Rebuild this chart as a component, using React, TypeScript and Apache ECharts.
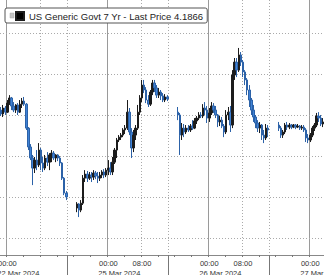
import React, { useEffect, useRef } from 'react';
import * as echarts from 'echarts';

// ---- chart text ----
const seriesTitle = 'US Generic Govt 7 Yr';
const fieldName = 'Last Price';

// ---- axis / tick definitions ----
const sessionDays = ['21 Mar 2024', '22 Mar 2024', '25 Mar 2024', '26 Mar 2024', '27 Mar 2024'];
const leadSlots = 3; // 30-min slots shown before 22 Mar 00:00
const slotMinutes = 30;
const slotsPerDay = 48;
const timeTickLabels = ['00:00', '08:00'];
const minorTickTimes = ['00:00', '04:00', '08:00', '12:00', '16:00', '20:00'];
const dayStartTime = '00:00';
const sessionBreakTime = '14:30';
const gapSlots = 4;
const gridValues = [4.13, 4.15, 4.17, 4.19, 4.21, 4.23];
const yMin = 4.1217;
const yMax = 4.2461;

// ---- 30-min candles [open, close, low, high] per session ----
const mar22 = [
  [4.1924, 4.1905, 4.1895, 4.1939], [4.1905, 4.1934, 4.1890, 4.1949], [4.1934, 4.1914, 4.1900, 4.1944],
  [4.1914, 4.1958, 4.1910, 4.1973], [4.1958, 4.1983, 4.1949, 4.1997], [4.1983, 4.1944, 4.1924, 4.1988],
  [4.1944, 4.1924, 4.1914, 4.1963], [4.1924, 4.1949, 4.1910, 4.1953], [4.1949, 4.1914, 4.1900, 4.1958],
  [4.1914, 4.1953, 4.1910, 4.1973], [4.1953, 4.1968, 4.1934, 4.1983], [4.1968, 4.1953, 4.1944, 4.1988],
  [4.1953, 4.1836, 4.1827, 4.1958], [4.1836, 4.1744, 4.1729, 4.1841], [4.1744, 4.1690, 4.1680, 4.1758],
  [4.1690, 4.1641, 4.1558, 4.1705], [4.1641, 4.1680, 4.1617, 4.1695], [4.1680, 4.1656, 4.1631, 4.1729],
  [4.1656, 4.1729, 4.1646, 4.1763], [4.1729, 4.1666, 4.1631, 4.1739], [4.1666, 4.1641, 4.1622, 4.1695],
  [4.1641, 4.1690, 4.1631, 4.1705], [4.1690, 4.1670, 4.1651, 4.1719], [4.1670, 4.1705, 4.1631, 4.1714],
  [4.1705, 4.1714, 4.1670, 4.1729], [4.1714, 4.1690, 4.1680, 4.1724], [4.1690, 4.1705, 4.1670, 4.1709],
  [4.1705, 4.1690, 4.1675, 4.1709], [4.1690, 4.1666, 4.1651, 4.1700], [4.1666, 4.1592, 4.1583, 4.1670],
  [4.1592, 4.1519, 4.1509, 4.1597], [4.1519, 4.1500, 4.1485, 4.1529],
];
const mar25 = [
  [4.1446, 4.1466, 4.1426, 4.1475], [4.1466, 4.1436, 4.1402, 4.1470], [4.1436, 4.1470, 4.1426, 4.1485],
  [4.1470, 4.1592, 4.1461, 4.1607], [4.1592, 4.1612, 4.1573, 4.1631], [4.1612, 4.1592, 4.1573, 4.1627],
  [4.1592, 4.1607, 4.1583, 4.1622], [4.1607, 4.1597, 4.1573, 4.1622], [4.1597, 4.1617, 4.1583, 4.1631],
  [4.1617, 4.1602, 4.1587, 4.1627], [4.1602, 4.1592, 4.1568, 4.1622], [4.1592, 4.1607, 4.1578, 4.1622],
  [4.1607, 4.1622, 4.1592, 4.1631], [4.1622, 4.1607, 4.1592, 4.1636], [4.1607, 4.1631, 4.1597, 4.1641],
  [4.1631, 4.1641, 4.1607, 4.1680], [4.1641, 4.1622, 4.1607, 4.1670], [4.1622, 4.1670, 4.1607, 4.1695],
  [4.1670, 4.1729, 4.1661, 4.1739], [4.1729, 4.1778, 4.1690, 4.1788], [4.1778, 4.1792, 4.1768, 4.1802],
  [4.1792, 4.1802, 4.1778, 4.1812], [4.1802, 4.1827, 4.1792, 4.1836], [4.1827, 4.1836, 4.1807, 4.1851],
  [4.1836, 4.1914, 4.1827, 4.1973], [4.1914, 4.1817, 4.1802, 4.1934], [4.1817, 4.1739, 4.1690, 4.1836],
  [4.1739, 4.1802, 4.1719, 4.1827], [4.1802, 4.1836, 4.1778, 4.1851], [4.1836, 4.1914, 4.1827, 4.1949],
  [4.1914, 4.1983, 4.1900, 4.1997], [4.1983, 4.2046, 4.1963, 4.2071], [4.2046, 4.2022, 4.2007, 4.2071],
  [4.2022, 4.1973, 4.1958, 4.2036], [4.1973, 4.1953, 4.1939, 4.1997], [4.1953, 4.2012, 4.1944, 4.2022],
  [4.2012, 4.2056, 4.1997, 4.2071], [4.2056, 4.2032, 4.2012, 4.2071], [4.2032, 4.1997, 4.1983, 4.2046],
  [4.1997, 4.2012, 4.1983, 4.2032], [4.2012, 4.1993, 4.1973, 4.2022], [4.1993, 4.1973, 4.1963, 4.2007],
  [4.1973, 4.1988, 4.1963, 4.2002], [4.1988, 4.1978, 4.1968, 4.1997],
];
const mar26 = [
  [4.1914, 4.1900, 4.1875, 4.1939], [4.1900, 4.1802, 4.1705, 4.1910], [4.1802, 4.1836, 4.1778, 4.1861],
  [4.1836, 4.1817, 4.1792, 4.1856], [4.1817, 4.1836, 4.1807, 4.1851], [4.1836, 4.1827, 4.1817, 4.1851],
  [4.1827, 4.1846, 4.1817, 4.1856], [4.1846, 4.1836, 4.1827, 4.1875], [4.1836, 4.1871, 4.1831, 4.1885],
  [4.1871, 4.1885, 4.1856, 4.1895], [4.1885, 4.1900, 4.1875, 4.1914], [4.1900, 4.1895, 4.1885, 4.1914],
  [4.1895, 4.1934, 4.1885, 4.1953], [4.1934, 4.1924, 4.1900, 4.1963], [4.1924, 4.1885, 4.1861, 4.1944],
  [4.1885, 4.1910, 4.1866, 4.1934], [4.1910, 4.1944, 4.1900, 4.1963], [4.1944, 4.1924, 4.1910, 4.1958],
  [4.1924, 4.1900, 4.1885, 4.1944], [4.1900, 4.1866, 4.1841, 4.1905], [4.1866, 4.1875, 4.1846, 4.1895],
  [4.1875, 4.1846, 4.1836, 4.1890], [4.1846, 4.1817, 4.1792, 4.1856], [4.1817, 4.1900, 4.1807, 4.1924],
  [4.1900, 4.1914, 4.1875, 4.1939], [4.1914, 4.1851, 4.1817, 4.1944], [4.1851, 4.2095, 4.1836, 4.2119],
  [4.2095, 4.2158, 4.2071, 4.2178], [4.2158, 4.2119, 4.2085, 4.2178], [4.2119, 4.2193, 4.2110, 4.2227],
  [4.2193, 4.2158, 4.2139, 4.2207], [4.2158, 4.2110, 4.2085, 4.2168], [4.2110, 4.2071, 4.2046, 4.2119],
  [4.2071, 4.2022, 4.1997, 4.2080], [4.2022, 4.1973, 4.1939, 4.2046], [4.1973, 4.1924, 4.1900, 4.1983],
  [4.1924, 4.1890, 4.1866, 4.1949], [4.1890, 4.1861, 4.1836, 4.1900], [4.1861, 4.1836, 4.1817, 4.1875],
  [4.1836, 4.1851, 4.1812, 4.1866], [4.1851, 4.1802, 4.1778, 4.1856], [4.1802, 4.1788, 4.1763, 4.1827],
  [4.1788, 4.1836, 4.1778, 4.1856], [4.1836, 4.1827, 4.1792, 4.1851],
];
const mar27 = [
  [4.1851, 4.1836, 4.1822, 4.1866], [4.1836, 4.1802, 4.1788, 4.1846], [4.1802, 4.1817, 4.1788, 4.1827],
  [4.1817, 4.1851, 4.1807, 4.1861], [4.1851, 4.1841, 4.1827, 4.1866], [4.1841, 4.1851, 4.1831, 4.1861],
  [4.1851, 4.1841, 4.1831, 4.1856], [4.1841, 4.1851, 4.1836, 4.1856], [4.1851, 4.1841, 4.1831, 4.1856],
  [4.1841, 4.1846, 4.1836, 4.1856], [4.1846, 4.1836, 4.1827, 4.1851], [4.1836, 4.1841, 4.1827, 4.1851],
  [4.1841, 4.1827, 4.1817, 4.1851], [4.1827, 4.1788, 4.1768, 4.1836], [4.1788, 4.1778, 4.1763, 4.1807],
  [4.1778, 4.1802, 4.1768, 4.1812], [4.1802, 4.1836, 4.1792, 4.1846], [4.1836, 4.1851, 4.1822, 4.1861],
  [4.1851, 4.1895, 4.1841, 4.1910], [4.1895, 4.1885, 4.1866, 4.1914], [4.1885, 4.1856, 4.1846, 4.1900],
  [4.1856, 4.1866, 4.1841, 4.1885],
];
const sessions = [mar22, mar25, mar26, mar27];

const pad2 = (n: number) => String(n).padStart(2, '0');

export default function App() {
  const ref = useRef<HTMLDivElement>(null);

  useEffect(() => {
    if (!ref.current) return;
    const chart = echarts.init(ref.current, null, { renderer: 'svg' });

    const candles: any[] = [];
    sessions.forEach((s, k) => {
      if (k > 0) for (let g = 0; g < gapSlots; g++) candles.push('-');
      s.forEach((c) => candles.push(c));
    });

    const categories: string[] = candles.map((_, i) => {
      const rel = i - leadSlots;
      const dayIdx = Math.floor(rel / slotsPerDay) + 1;
      const m = (((rel % slotsPerDay) + slotsPerDay) % slotsPerDay) * slotMinutes;
      return `${sessionDays[dayIdx]} ${pad2(Math.floor(m / 60))}:${pad2(m % 60)}`;
    });

    const timeOf = (v: string) => v.slice(-5);
    const dateOf = (v: string) => v.slice(0, -6);
    const lastClose = mar27[mar27.length - 1][1];
    const legendName = `${seriesTitle} - ${fieldName} ${lastClose.toFixed(4)}`;
    const labelFont = 'Liberation Sans, Arial, sans-serif';

    chart.setOption({
      animation: false,
      backgroundColor: '#ffffff',
      grid: { left: 0, right: 0, top: 0, bottom: 20, containLabel: false, outerBoundsMode: 'none' },
      legend: {
        left: 5,
        top: 8,
        padding: [3, 4, 2, 10],
        backgroundColor: '#ffffff',
        borderColor: '#555555',
        borderWidth: 1,
        borderRadius: 2,
        itemWidth: 8,
        itemHeight: 8,
        selectedMode: false,
        data: [{ name: legendName, icon: 'rect', itemStyle: { color: '#000000' } }],
        textStyle: {
          fontFamily: "'Liberation Sans Narrow', 'Liberation Sans', sans-serif",
          fontSize: 9.5,
          color: '#222222',
        },
      },
      graphic: [
        { type: 'rect', z: 100, shape: { x: 10, y: 13, width: 4, height: 5 }, style: { fill: '#c4c4c4', stroke: '#a8a8a8', lineWidth: 0.5 } },
      ],
      xAxis: [
        {
          type: 'category',
          data: categories,
          position: 'bottom',
          axisLine: { show: true, lineStyle: { color: '#888888', width: 1 } },
          axisTick: {
            show: true,
            interval: (_i: number, v: string) => minorTickTimes.includes(timeOf(v)),
            length: 2,
            lineStyle: { color: '#777777' },
          },
          axisLabel: {
            interval: (_i: number, v: string) => timeTickLabels.includes(timeOf(v)),
            formatter: (v: string) =>
              timeOf(v) === dayStartTime
                ? `{t|${timeOf(v)}}\n{d|${dateOf(v)}}`
                : `{t|${timeOf(v)}}\n{e| }`,
            hideOverlap: false,
            margin: 3,
            showMinLabel: true,
            showMaxLabel: true,
            rich: {
              t: { fontFamily: labelFont, fontSize: 7.5, color: '#333333', align: 'center', lineHeight: 10 },
              d: { fontFamily: labelFont, fontSize: 7.5, color: '#333333', align: 'left', lineHeight: 10, padding: [0, 0, 0, 22] },
              e: { fontFamily: labelFont, fontSize: 7.5, lineHeight: 10 },
            },
          },
          splitLine: {
            show: true,
            interval: (_i: number, v: string) => timeOf(v) === dayStartTime,
            lineStyle: { color: '#9a9a9a', width: 1, type: 'solid' },
          },
        },
        {
          type: 'category',
          data: categories,
          position: 'bottom',
          axisLine: { show: false },
          axisTick: {
            show: true,
            interval: (_i: number, v: string) => timeOf(v) === sessionBreakTime,
            length: 20,
            lineStyle: { color: '#777777' },
          },
          axisLabel: { show: false },
          splitLine: {
            show: true,
            interval: (_i: number, v: string) => timeOf(v) === '08:00' || timeOf(v) === sessionBreakTime,
            lineStyle: { color: '#aaaaaa', width: 1, type: [1, 2] },
          },
        },
      ],
      yAxis: { type: 'value', min: yMin, max: yMax, show: false, splitLine: { show: false } },
      series: [
        {
          name: legendName,
          type: 'candlestick',
          xAxisIndex: 0,
          yAxisIndex: 0,
          barWidth: 2,
          z: 3,
          data: candles,
          itemStyle: {
            color: '#1c1c1c',
            borderColor: '#1c1c1c',
            color0: '#3f82d6',
            borderColor0: '#2c62a8',
            borderWidth: 1,
          },
          markLine: {
            silent: true,
            z: 1,
            symbol: ['none', 'none'],
            label: { show: false },
            lineStyle: { color: '#aaaaaa', width: 1, type: [1, 2] },
            data: gridValues.map((v) => ({ yAxis: v })),
          },
        },
      ],
    });

    return () => chart.dispose();
  }, []);

  return (
    <div
      ref={ref}
      style={{ position: 'fixed', left: 0, top: 0, width: 324, height: 275, background: '#fff' }}
    />
  );
}
